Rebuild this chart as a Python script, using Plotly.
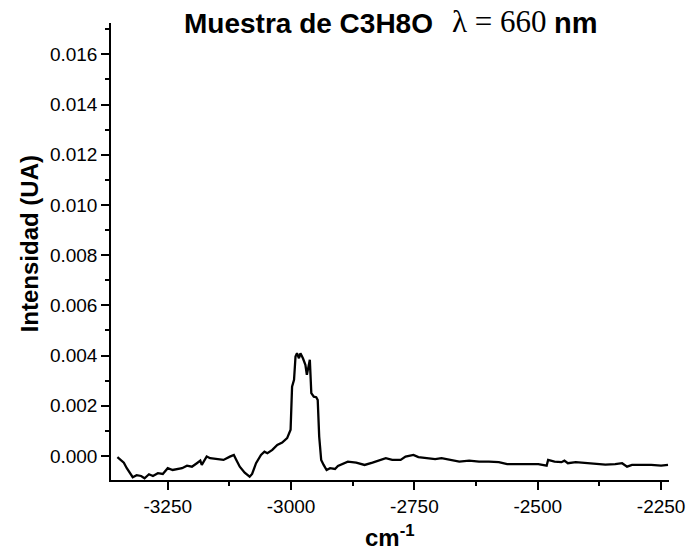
import plotly.graph_objects as go

# Raman shift (cm^-1) and intensity (UA) of the C3H8O sample
wavenumber = [
    -3352, -3343, -3339, -3333, -3327, -3321, -3313, -3304, -3297, -3288,
    -3280, -3270, -3260, -3250, -3240, -3230, -3221, -3211, -3201, -3191,
    -3184, -3181, -3171, -3164, -3151, -3137, -3124, -3116, -3111, -3104,
    -3094, -3084, -3079, -3071, -3061, -3054, -3048, -3038, -3028, -3018,
    -3008, -3003, -3001, -2998, -2994, -2991, -2988, -2984, -2981, -2976,
    -2971, -2968, -2964, -2962, -2959, -2954, -2949, -2946, -2943, -2939,
    -2934, -2928, -2921, -2911, -2905, -2895, -2885, -2868, -2851, -2835,
    -2822, -2808, -2795, -2778, -2768, -2752, -2742, -2725, -2708, -2695,
    -2678, -2659, -2639, -2619, -2599, -2579, -2562, -2545, -2519, -2499,
    -2482, -2479, -2466, -2452, -2446, -2439, -2423, -2403, -2383, -2363,
    -2343, -2329, -2319, -2309, -2289, -2270, -2250, -2236,
]
intensity_milli = [
    -0.05, -0.19, -0.27, -0.49, -0.69, -0.85, -0.77, -0.80, -0.89, -0.73,
    -0.80, -0.69, -0.72, -0.49, -0.56, -0.53, -0.49, -0.39, -0.43, -0.29,
    -0.19, -0.36, -0.02, -0.09, -0.13, -0.16, -0.03, 0.04, -0.16, -0.43,
    -0.67, -0.83, -0.72, -0.29, 0.04, 0.17, 0.11, 0.24, 0.44, 0.53,
    0.71, 0.90, 1.04, 2.76, 3.03, 3.96, 4.09, 3.89, 4.09, 3.89,
    3.63, 3.23, 3.76, 3.83, 2.50, 2.36, 2.34, 2.23, 0.77, -0.16,
    -0.36, -0.56, -0.49, -0.52, -0.40, -0.32, -0.23, -0.27, -0.36, -0.27,
    -0.19, -0.09, -0.16, -0.16, -0.03, 0.04, -0.05, -0.09, -0.13, -0.09,
    -0.16, -0.23, -0.19, -0.23, -0.23, -0.25, -0.33, -0.33, -0.36, -0.33,
    -0.39, -0.16, -0.23, -0.25, -0.19, -0.29, -0.25, -0.29, -0.33, -0.35,
    -0.33, -0.29, -0.43, -0.36, -0.36, -0.36, -0.39, -0.36,
]
intensity = [v / 1000.0 for v in intensity_milli]

x_ticks = [-3250, -3000, -2750, -2500, -2250]
y_ticks = [0.000, 0.002, 0.004, 0.006, 0.008, 0.010, 0.012, 0.014, 0.016]

W, H = 697, 552
L, R, T, B = 111, 19, 23, 72
pw, ph = W - L - R, H - T - B


def px_x(p):
    return (p - L) / pw


def px_y(p):
    return 1 - (p - T) / ph


fig = go.Figure(
    go.Scatter(
        x=wavenumber, y=intensity, mode="lines",
        line=dict(color="black", width=2.3),
        hoverinfo="skip",
    )
)

axis_common = dict(
    showgrid=False, zeroline=False, showline=True,
    linecolor="black", linewidth=1.5, ticks="outside",
    tickcolor="black", tickwidth=1.5, ticklen=8,
    tickfont=dict(family="Liberation Sans, Arial", size=19, color="black"),
)

fig.update_layout(
    width=W, height=H,
    margin=dict(l=L, r=R, t=T, b=B),
    paper_bgcolor="white", plot_bgcolor="white",
    showlegend=False,
    xaxis=dict(
        range=[-3365, -2234], tickvals=x_ticks,
        ticktext=[str(v) for v in x_ticks],
        minor=dict(dtick=125, tick0=-3250, ticks="outside", ticklen=4,
                   tickcolor="black", tickwidth=1.5),
        **axis_common,
    ),
    yaxis=dict(
        range=[-0.00096, 0.01725], tickvals=y_ticks,
        ticktext=[f"{v:.3f}" for v in y_ticks],
        minor=dict(dtick=0.001, tick0=0, ticks="outside", ticklen=4,
                   tickcolor="black", tickwidth=1.5),
        **axis_common,
    ),
)

sans = "Liberation Sans, Arial"
serif = "Liberation Serif"

fig.add_annotation(
    text="<b>Muestra de C3H8O</b>", xref="paper", yref="paper",
    x=px_x(312), y=px_y(24), xanchor="center", yanchor="middle",
    showarrow=False,
    font=dict(family=sans, size=28, color="black"),
)
fig.add_annotation(
    text="λ = 660", xref="paper", yref="paper",
    x=px_x(455), y=px_y(21), xanchor="left", yanchor="middle",
    showarrow=False,
    font=dict(family=serif, size=31, color="black"),
)
fig.add_annotation(
    text="<b>nm</b>", xref="paper", yref="paper",
    x=px_x(559), y=px_y(23), xanchor="left", yanchor="middle",
    showarrow=False,
    font=dict(family=sans, size=29, color="black"),
)
fig.add_annotation(
    text="<b>Intensidad (UA)</b>", xref="paper", yref="paper",
    x=px_x(28), y=px_y(244), xanchor="center", yanchor="middle",
    textangle=-90, showarrow=False,
    font=dict(family=sans, size=24, color="black"),
)
fig.add_annotation(
    text="<b>cm<sup>-1</sup></b>", xref="paper", yref="paper",
    x=px_x(395), y=px_y(536), xanchor="center", yanchor="middle",
    showarrow=False,
    font=dict(family=sans, size=24, color="black"),
)

fig.write_html("out.html")
